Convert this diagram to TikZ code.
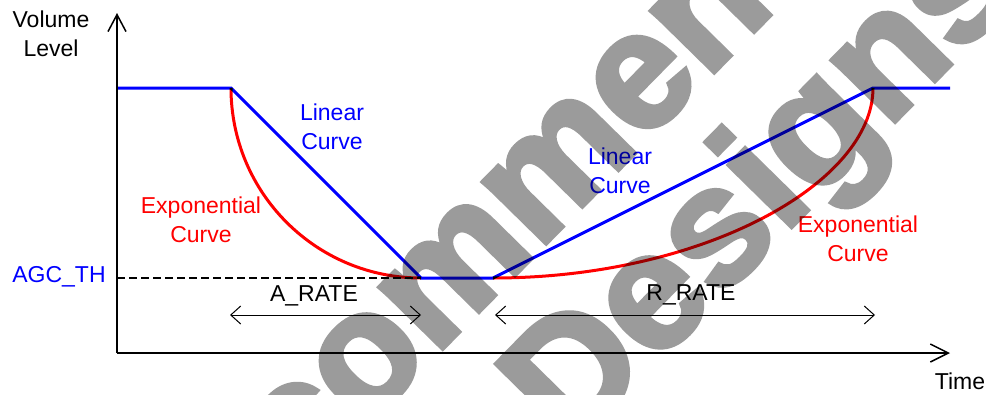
\documentclass[tikz,border=0pt]{standalone}
\usepackage{fontspec}
\setmainfont{Liberation Sans}
\newfontfamily\wmfont[FakeBold=3]{Liberation Sans Bold}
\usetikzlibrary{arrows.meta}
\definecolor{cblue}{RGB}{0,0,255}
\definecolor{cred}{RGB}{255,0,0}
\definecolor{wm}{RGB}{155,155,155}
\tikzset{
  lbl/.style={font=\fontsize{23}{29}\selectfont, inner sep=0pt, align=center},
  axis/.style={line width=1.5pt, black},
  rng/.style={line width=1pt, black, {Straight Barb[length=10pt,width=18pt]}-{Straight Barb[length=10pt,width=18pt]}},
  bluecurve/.style={line width=3pt, cblue, line join=miter},
  redcurve/.style={line width=3pt, cred},
  wmtext/.style={font=\fontsize{166}{166}\wmfont, text=wm, color=wm, inner sep=0pt, rotate=45.5, anchor=base west}
}
\begin{document}
\begin{tikzpicture}[x=1pt,y=-1pt]
\useasboundingbox (0,0) rectangle (986,394);
\fill[white] (0,0) rectangle (986,394);
% watermark (underneath; the drawing is multiplied over it)
\begin{scope}
\clip (0,0) rectangle (986,394);
\node[wmtext] (wm1) at (150,646) {Recommended};
\node[wmtext] (wm2) at (570,452) {Designs};
\end{scope}
\begin{scope}[blend mode=multiply]
% key points
\coordinate (O) at (117,353);
\coordinate (Ytop) at (117,13);
\coordinate (Xend) at (950,353);
\coordinate (TH0) at (117,278);
\coordinate (H0) at (117,88);
\coordinate (A1) at (231,88);
\coordinate (A2) at (421,278);
\coordinate (R1) at (493,278);
\coordinate (R2) at (873,88);
\coordinate (H1) at (950,88);
\coordinate (aL) at (230,315);
\coordinate (aR) at (421,315);
\coordinate (rL) at (495,315);
\coordinate (rR) at (875,315);
% axes
\draw[axis, -{Straight Barb[length=17pt,width=18pt]}] (O) -- (Ytop);
\draw[axis, -{Straight Barb[length=18pt,width=18pt]}] (O) -- (Xend);
% threshold
\draw[line width=2pt, black, dash pattern=on 8pt off 4pt] (TH0) -- (A2);
% exponential curves
\draw[redcurve] (A1) .. controls (231,193) and (316,278) .. (A2);
\draw[redcurve] (R1) .. controls (703,278) and (873,183) .. (R2);
% linear curve
\draw[bluecurve] (H0) -- (A1) -- (A2) -- (R1) -- (R2) -- (H1);
% rate arrows
\draw[rng] (aL) -- (aR);
\draw[rng] (rL) -- (rR);
% labels
\node[lbl] (vol) at (51,34) {Volume\\Level};
\node[lbl] (time) at (960,381) {Time};
\node[lbl, text=cblue] (agc) at (59,277) {AGC\_TH};
\node[lbl, text=cblue] (lin1) at (332,127) {Linear\\Curve};
\node[lbl, text=cblue] (lin2) at (620,171) {Linear\\Curve};
\node[lbl, text=cred] (exp1) at (201,220) {Exponential\\Curve};
\node[lbl, text=cred] (exp2) at (858,239) {Exponential\\Curve};
\node[lbl] (arate) at (314,296) {A\_RATE};
\node[lbl] (rrate) at (691,295) {R\_RATE};
\end{scope}
\end{tikzpicture}
\end{document}
